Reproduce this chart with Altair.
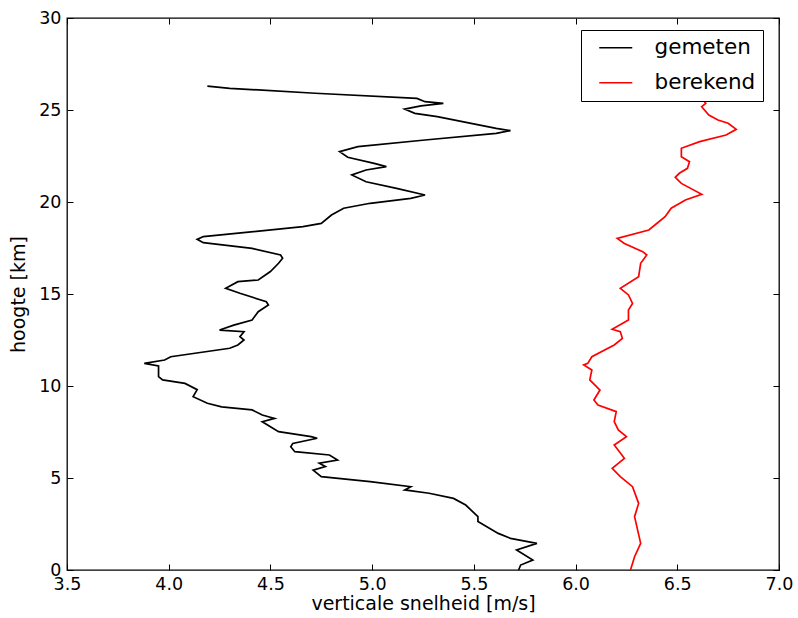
import altair as alt
import pandas as pd

# gemeten (measured) profile: velocity [m/s] vs height [km]
gem_x = [5.72, 5.73, 5.79, 5.71, 5.81, 5.68, 5.62, 5.52, 5.52, 5.46, 5.40, 5.28, 5.16, 5.19, 4.99,
         4.75, 4.71, 4.77, 4.74, 4.83, 4.79, 4.62, 4.60, 4.61, 4.73, 4.70, 4.54, 4.50, 4.46, 4.52,
         4.46, 4.41, 4.26, 4.19, 4.12, 4.14, 4.08, 3.97, 3.95, 3.95, 3.88, 3.98, 4.01, 4.30, 4.34,
         4.37, 4.35, 4.37, 4.25, 4.32, 4.41, 4.44, 4.49, 4.48, 4.35, 4.28, 4.34, 4.44, 4.50, 4.54,
         4.56, 4.55, 4.41, 4.17, 4.14, 4.17, 4.66, 4.75, 4.80, 4.86, 4.99, 5.19, 5.26, 5.12, 4.97,
         4.90, 4.97, 5.07, 5.01, 4.88, 4.84, 4.93, 5.26, 5.61, 5.68, 5.61, 5.32, 5.21, 5.16, 5.24,
         5.35, 5.26, 5.22, 4.72, 4.30, 4.19]
gem_y = [0.00, 0.27, 0.54, 1.09, 1.45, 1.72, 1.99, 2.63, 2.90, 3.53, 3.89, 4.17, 4.35, 4.53, 4.80,
         5.07, 5.43, 5.62, 5.80, 5.98, 6.25, 6.43, 6.70, 6.88, 7.16, 7.25, 7.52, 7.79, 8.06, 8.24,
         8.42, 8.70, 8.87, 9.06, 9.42, 9.80, 10.14, 10.33, 10.51, 11.09, 11.23, 11.41, 11.59, 12.05, 12.23,
         12.50, 12.68, 12.95, 13.04, 13.31, 13.59, 14.04, 14.40, 14.58, 15.04, 15.31, 15.67, 15.76, 16.22, 16.67,
         16.94, 17.12, 17.48, 17.79, 17.97, 18.12, 18.66, 18.84, 19.29, 19.66, 19.93, 20.20, 20.38, 20.74, 21.10,
         21.47, 21.74, 21.92, 22.10, 22.43, 22.74, 23.01, 23.37, 23.73, 23.88, 24.00, 24.64, 24.82, 25.05, 25.22,
         25.36, 25.45, 25.63, 25.91, 26.18, 26.30]

# berekend (computed) profile
ber_x = [6.27, 6.29, 6.32, 6.29, 6.31, 6.28, 6.22, 6.18, 6.24, 6.19, 6.25, 6.21, 6.19, 6.20, 6.11,
         6.09, 6.12, 6.07, 6.08, 6.04, 6.06, 6.08, 6.19, 6.23, 6.22, 6.18, 6.26, 6.26, 6.28, 6.26,
         6.22, 6.31, 6.32, 6.35, 6.33, 6.24, 6.205, 6.36, 6.39, 6.44, 6.47, 6.54, 6.62, 6.52, 6.49,
         6.51, 6.55, 6.56, 6.52, 6.52, 6.61, 6.74, 6.79, 6.75, 6.70, 6.655, 6.62, 6.64, 6.63]
ber_y = [0.00, 0.72, 1.45, 2.90, 3.62, 4.53, 5.07, 5.53, 6.07, 6.79, 7.25, 7.61, 8.06, 8.61, 8.97,
         9.24, 9.78, 10.33, 10.87, 11.14, 11.23, 11.59, 12.23, 12.59, 12.95, 13.08, 13.59, 14.13, 14.49, 14.95,
         15.31, 15.94, 16.67, 17.12, 17.30, 17.75, 18.02, 18.48, 18.75, 19.20, 19.66, 20.11, 20.42, 21.01, 21.34,
         21.56, 21.83, 22.19, 22.46, 22.92, 23.28, 23.64, 23.95, 24.28, 24.46, 24.73, 25.18, 25.36, 25.50]

series_names = ["gemeten", "berekend"]
series_colors = ["black", "red"]
x_ticks = [3.5, 4.0, 4.5, 5.0, 5.5, 6.0, 6.5, 7.0]
y_ticks = [0, 5, 10, 15, 20, 25, 30]

rows = []
for i, (x, y) in enumerate(zip(gem_x, gem_y)):
    rows.append({"v": x, "h": y, "serie": series_names[0], "i": i})
for i, (x, y) in enumerate(zip(ber_x, ber_y)):
    rows.append({"v": x, "h": y, "serie": series_names[1], "i": i})
df = pd.DataFrame(rows)

W, H = 712, 552
FONT = "DejaVu Sans"

xscale = alt.Scale(domain=[3.5, 7.0], nice=False, zero=False)
yscale = alt.Scale(domain=[0, 30], nice=False, zero=False)

base = alt.Chart(df)

lines = base.mark_line(strokeWidth=1.7).encode(
    x=alt.X("v:Q", scale=xscale,
            axis=alt.Axis(orient="bottom", values=x_ticks, format=".1f", ticks=False, tickSize=0,
                          domain=False, grid=False, labelFontSize=17.5, labelFont=FONT,
                          labelColor="black", labelPadding=5, labelFlush=False, labelOverlap=False,
                          title="verticale snelheid [m/s]", titleFont=FONT, titleFontSize=19,
                          titleFontWeight="normal", titleColor="black", titlePadding=2)),
    y=alt.Y("h:Q", scale=yscale,
            axis=alt.Axis(orient="left", values=y_ticks, format="d", ticks=False, tickSize=0,
                          domain=False, grid=False, labelFontSize=17.5, labelFont=FONT,
                          labelColor="black", labelPadding=6, labelFlush=False, labelOverlap=False,
                          title="hoogte [km]", titleFont=FONT, titleFontSize=19,
                          titleFontWeight="normal", titleColor="black", titlePadding=10)),
    color=alt.Color("serie:N", scale=alt.Scale(domain=series_names, range=series_colors),
                    legend=alt.Legend(title=None, orient="none", legendX=514, legendY=12,
                                      symbolType="M-3,0H3", symbolStrokeWidth=1.5, symbolSize=121,
                                      symbolOffset=17, labelFontSize=21.5, labelFont=FONT,
                                      labelColor="black", labelOffset=28, padding=7, rowPadding=12,
                                      strokeColor="black", fillColor="white", cornerRadius=0)),
    order="i:Q",
)

tick_a = base.mark_point(opacity=0).encode(
    x=alt.X("v:Q", scale=xscale,
            axis=alt.Axis(orient="top", offset=-H, values=x_ticks, labels=False, domain=False,
                          grid=False, tickSize=6, tickColor="black", tickWidth=1, title=None)),
    y=alt.Y("h:Q", scale=yscale,
            axis=alt.Axis(orient="right", offset=-W, values=y_ticks, labels=False, domain=False,
                          grid=False, tickSize=6, tickColor="black", tickWidth=1, title=None)),
)

tick_b = base.mark_point(opacity=0).encode(
    x=alt.X("v:Q", scale=xscale,
            axis=alt.Axis(orient="bottom", offset=-H, values=x_ticks, labels=False, domain=False,
                          grid=False, tickSize=6, tickColor="black", tickWidth=1, title=None)),
    y=alt.Y("h:Q", scale=yscale,
            axis=alt.Axis(orient="left", offset=-W, values=y_ticks, labels=False, domain=False,
                          grid=False, tickSize=6, tickColor="black", tickWidth=1, title=None)),
)

chart = alt.layer(lines, tick_a, tick_b).resolve_axis(
    x="independent", y="independent"
).properties(
    width=W, height=H,
    autosize=alt.AutoSizeParams(type="none"),
    padding={"left": 67, "top": 18, "right": 19, "bottom": 48},
    background="white",
).configure_view(stroke="black", strokeWidth=1.3)

chart.save("out.html", embed_options={"renderer": "svg", "actions": False})
